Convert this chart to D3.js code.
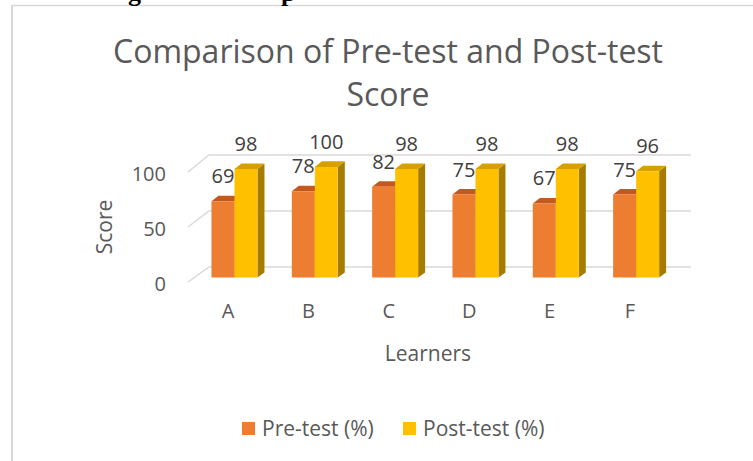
<!DOCTYPE html>
<html>
<head>
<meta charset="utf-8">
<script src="https://cdn.jsdelivr.net/npm/d3@7"></script>
<style>
  html, body { margin: 0; padding: 0; background: #ffffff; }
  svg { display: block; }
</style>
</head>
<body>
<svg id="chart" width="753" height="461"></svg>
<script>
// ---- data ----
const categories = ["A", "B", "C", "D", "E", "F"];
const seriesNames = ["Pre-test (%)", "Post-test (%)"];
const preTest = [69, 78, 82, 75, 67, 75];
const postTest = [98, 100, 98, 98, 98, 96];
const yTicks = [0, 50, 100];
const titleLines = ["Comparison of Pre-test and Post-test", "Score"];

const seriesValues = [preTest, postTest];
const colors = [
  { front: "#ED7D31", top: "#C4591F", side: "#A9501C" },
  { front: "#FFC000", top: "#D6A100", side: "#A67C00" }
];

const svg = d3.select("#chart");
const font = "'Open Sans', 'Noto Sans', sans-serif";
const textColor = "#595959";

// ---- frame of the embedded chart ----
svg.append("line").attr("x1", 12).attr("x2", 753).attr("y1", 5.5).attr("y2", 5.5)
  .attr("stroke", "#d9d9d9").attr("stroke-width", 1.5);
svg.append("line").attr("x1", 12).attr("x2", 12).attr("y1", 5).attr("y2", 461)
  .attr("stroke", "#d9d9d9").attr("stroke-width", 2);

// cut-off document text above the chart (only descenders visible)
svg.append("text").attr("x", 128).attr("y", 1).text("g")
  .attr("font-family", "'Liberation Serif', serif").attr("font-weight", "bold")
  .attr("font-size", 26).attr("fill", "#000");
svg.append("text").attr("x", 281).attr("y", 1).text("p")
  .attr("font-family", "'Liberation Serif', serif").attr("font-weight", "bold")
  .attr("font-size", 26).attr("fill", "#000");

// ---- scales (front plane and back wall of the 3-D box) ----
const x = d3.scaleBand().domain(categories).range([188, 670]).padding(0);
const depthDx = 21;
const yFront = d3.scaleLinear().domain([0, 100]).range([282, 172]);
const yBack = d3.scaleLinear().domain([0, 100]).range([267, 155]);
function proj(px, v, t) {
  return [px + depthDx * t, yFront(v) * (1 - t) + yBack(v) * t];
}
const t0 = 0.3, t1 = 0.633;
const barW = 23;
const xSub = d3.scaleBand().domain(d3.range(seriesNames.length)).range([-barW, barW]).padding(0);

// ---- gridlines ----
const gridG = svg.append("g");
yTicks.forEach(v => {
  const pts = [proj(188, v, 0), proj(188, v, 1), proj(670, v, 1)];
  gridG.append("polyline")
    .attr("points", pts.map(p => p.join(",")).join(" "))
    .attr("fill", "none").attr("stroke", "#d9d9d9").attr("stroke-width", 1.5);
});

// ---- bars ----
const barsG = svg.append("g");
const labelsG = svg.append("g");
categories.forEach((c, i) => {
  const cx = x(c) + x.bandwidth() / 2;
  seriesValues.forEach((vals, s) => {
    const v = vals[i];
    const xa = cx + xSub(s), xb = xa + xSub.bandwidth();
    const poly = pts => pts.map(p => p.join(",")).join(" ");
    const col = colors[s];
    barsG.append("polygon")
      .attr("points", poly([proj(xb, 0, t0), proj(xb, v, t0), proj(xb, v, t1), proj(xb, 0, t1)]))
      .attr("fill", col.side);
    barsG.append("polygon")
      .attr("points", poly([proj(xa, v, t0), proj(xb, v, t0), proj(xb, v, t1), proj(xa, v, t1)]))
      .attr("fill", col.top);
    barsG.append("polygon")
      .attr("points", poly([proj(xa, 0, t0), proj(xb, 0, t0), proj(xb, v, t0), proj(xa, v, t0)]))
      .attr("fill", col.front);
    const ft = proj((xa + xb) / 2, v, t0);
    labelsG.append("text")
      .attr("x", ft[0]).attr("y", ft[1] - 18)
      .attr("text-anchor", "middle")
      .attr("font-family", font).attr("font-size", 20)
      .attr("fill", "#404040")
      .text(v);
  });
});

// ---- axes ----
const yAxis = d3.axisLeft(yFront).tickValues(yTicks).tickSize(0).tickPadding(22);
const yAxisG = svg.append("g").attr("transform", "translate(188,2)").call(yAxis);
yAxisG.select(".domain").remove();
yAxisG.selectAll("text").attr("font-family", font).attr("font-size", 20).attr("fill", textColor);

const xAxis = d3.axisBottom(x).tickSize(0).tickPadding(22);
const xAxisG = svg.append("g").attr("transform", "translate(0,282)").call(xAxis);
xAxisG.select(".domain").remove();
xAxisG.selectAll("text").attr("font-family", font).attr("font-size", 20).attr("fill", textColor);

// ---- axis titles ----
svg.append("text")
  .attr("transform", "translate(112,227) rotate(-90)")
  .attr("text-anchor", "middle")
  .attr("font-family", font).attr("font-size", 21).attr("fill", textColor)
  .text("Score");
svg.append("text")
  .attr("x", 428).attr("y", 361)
  .attr("text-anchor", "middle")
  .attr("font-family", font).attr("font-size", 21).attr("fill", textColor)
  .text("Learners");

// ---- title ----
svg.append("g").selectAll("text").data(titleLines).join("text")
  .attr("x", 388).attr("y", (d, i) => 63 + i * 43)
  .attr("text-anchor", "middle")
  .attr("font-family", font).attr("font-size", 32).attr("fill", textColor)
  .text(d => d);

// ---- legend ----
const legendX = [242, 403];
const legend = svg.append("g");
seriesNames.forEach((n, s) => {
  legend.append("rect").attr("x", legendX[s]).attr("y", 422).attr("width", 13).attr("height", 13)
    .attr("fill", colors[s].front);
  legend.append("text").attr("x", legendX[s] + 20).attr("y", 436)
    .attr("font-family", font).attr("font-size", 21).attr("fill", textColor)
    .text(n);
});
</script>
</body>
</html>
